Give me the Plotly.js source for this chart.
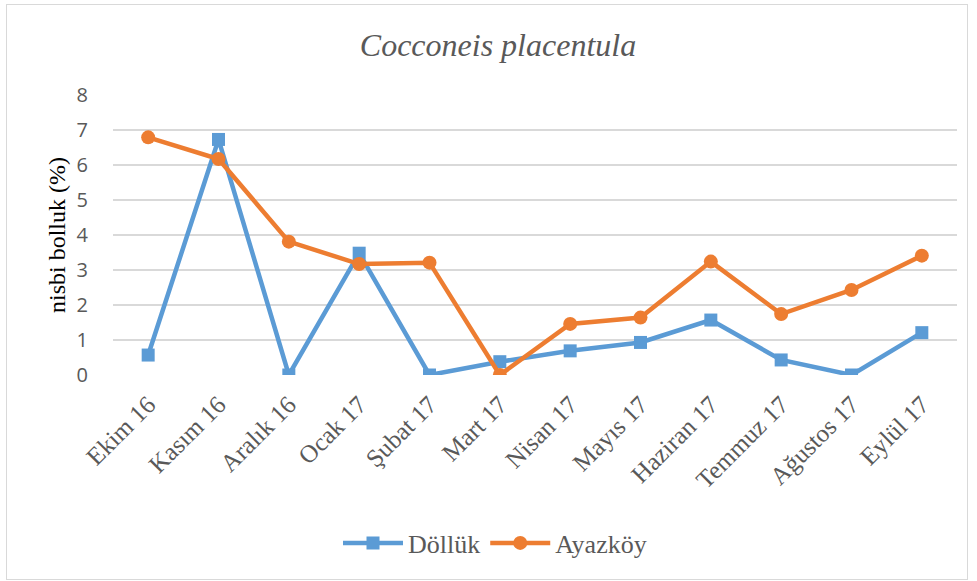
<!DOCTYPE html>
<html><head><meta charset="utf-8">
<script src="https://cdn.plot.ly/plotly-3.0.1.min.js"></script>
<style>
html,body{margin:0;padding:0;background:#fff;}
#frame{position:absolute;left:6px;top:4px;width:962px;height:576px;border:1px solid #d9d9d9;box-sizing:border-box;}
#chart{position:absolute;left:0;top:0;width:977px;height:581px;}
</style>
</head><body>
<div id="frame"></div>
<div id="chart"></div>
<script>
const months = ["Ekim 16","Kasım 16","Aralık 16","Ocak 17","Şubat 17","Mart 17","Nisan 17","Mayıs 17","Haziran 17","Temmuz 17","Ağustos 17","Eylül 17"];
const dolluk = [0.57,6.73,0,3.48,0,0.38,0.69,0.93,1.57,0.43,0,1.21];
const ayazkoy = [6.79,6.17,3.81,3.17,3.21,0,1.46,1.64,3.24,1.74,2.43,3.41];
const yTicks = [0,1,2,3,4,5,6,7,8];

const SERIF = "Liberation Serif";
const traces = [
 {x: months, y: dolluk, name: "Döllük", type: "scatter", mode: "lines+markers",
  line: {color: "#5B9BD5", width: 4.5}, marker: {symbol: "square", size: 13, color: "#5B9BD5"}},
 {x: months, y: ayazkoy, name: "Ayazköy", type: "scatter", mode: "lines+markers",
  line: {color: "#ED7D31", width: 4.5}, marker: {symbol: "circle", size: 14, color: "#ED7D31"}}
];

const layout = {
 width: 977, height: 581,
 paper_bgcolor: "rgba(0,0,0,0)", plot_bgcolor: "rgba(0,0,0,0)",
 margin: {l: 113, r: 20, t: 95, b: 206},
 showlegend: true,
 title: {text: "Cocconeis placentula", font: {family: SERIF, style: "italic", size: 32, color: "#595959"},
  xref: "container", x: 498/977, xanchor: "center", yref: "container", y: 1 - 45/581, yanchor: "middle"},
 xaxis: {type: "category", range: [-0.5, 11.5], tickangle: -45, showgrid: false, zeroline: false,
  showline: false, ticks: "", ticklabelstandoff: 9,
  tickfont: {family: SERIF, size: 25, color: "#595959"}},
 yaxis: {range: [0, 8], tickvals: yTicks, showgrid: true, gridcolor: "#d9d9d9", gridwidth: 1.5,
  zeroline: false, showline: false, ticks: "", ticklabelstandoff: 24,
  tickfont: {family: "Open Sans", size: 20, color: "#595959"},
  title: {text: "nisbi bolluk (%)", font: {family: SERIF, size: 24, color: "#000"}, standoff: 4}},
 legend: {orientation: "h", xref: "container", yref: "container", x: 495/977, xanchor: "center", y: 1 - 543/581, yanchor: "middle",
  font: {family: SERIF, size: 26, color: "#595959"}, itemwidth: 60, tracegroupgap: 0}
};

Plotly.newPlot("chart", traces, layout, {displayModeBar: false, staticPlot: true});
</script>
</body></html>
